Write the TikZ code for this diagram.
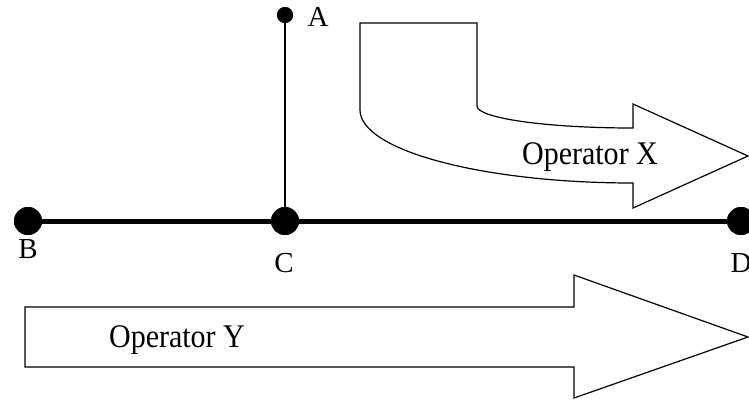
\documentclass[tikz,border=0pt]{standalone}
\usepackage{fontspec}
\setmainfont{Liberation Serif}
\begin{document}
\begin{tikzpicture}[x=1pt,y=-1pt,
  dot/.style={circle,fill=black,inner sep=0pt,minimum size=#1},
  lbl/.style={inner sep=0pt,font=\fontsize{29}{34}\selectfont},
  optext/.style={inner sep=0pt,font=\fontsize{30}{36}\selectfont,yscale=1.1},
  blockarrow/.style={draw=black,line width=1.2pt,fill=white,line join=miter}]
\useasboundingbox (0,0) rectangle (749,400);

% points of the segment
\node[dot=16pt] (A) at (285,15) {};
\node[dot=28pt] (B) at (28,221) {};
\node[dot=28pt] (C) at (285,221) {};
\node[dot=28pt] (D) at (741,221) {};

% segments, redrawn dots on top
\draw[line width=1.6pt] (A.center) -- (C.center);
\draw[line width=5pt] (B.center) -- (D.center);
\node[dot=16pt] at (A) {};
\node[dot=28pt] at (B) {};
\node[dot=28pt] at (C) {};
\node[dot=28pt] at (D) {};

% point labels
\node[lbl] (lA) at (318,17) {A};
\node[lbl] (lB) at (28,249) {B};
\node[lbl] (lC) at (284,263) {C};
\node[lbl] (lD) at (741,263) {D};

% curved block arrow for operator X
\draw[blockarrow]
  (360,23) -- (477,23) -- (477,106)
  .. controls (477,118.2) and (546.8,128) .. (633,128)
  -- (633,104) -- (748,156) -- (633,208) -- (633,183)
  .. controls (482.2,183) and (360,150.3) .. (360,110)
  -- cycle;
\node[optext] (opX) at (590,157) {Operator X};

% straight block arrow for operator Y
\draw[blockarrow]
  (25,307) -- (574,307) -- (574,275) -- (748,337)
  -- (574,398) -- (574,367) -- (25,367) -- cycle;
\node[optext] (opY) at (177,340) {Operator Y};
\end{tikzpicture}
\end{document}
